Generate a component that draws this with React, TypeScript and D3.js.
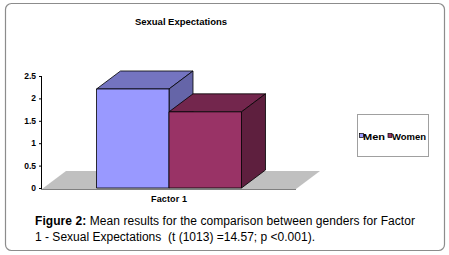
import React from "react";
import * as d3 from "d3";

// chart data
const categories = ["Factor 1"];
const seriesNames = ["Men", "Women"];
const menValues = [2.21];
const womenValues = [1.7];
const yTicks = [0, 0.5, 1, 1.5, 2, 2.5];

const fronts = ["#9999ff", "#993366"];
const tops = ["#7474c0", "#73264d"];
const sides = ["#6565a8", "#5e1f3e"];

const W = 449;
const H = 255;
const DX = 24;
const DY = -18;
const font = "'Liberation Sans', Arial, sans-serif";

const App = () => {
  const y = d3.scaleLinear().domain([0, 2.5]).range([188, 76]);
  const x0 = d3.scaleBand().domain(categories).range([42, 296]).paddingInner(0).paddingOuter(0.376);
  const x1 = d3.scaleBand().domain(seriesNames).range([0, x0.bandwidth()]);
  const values = [menValues, womenValues];

  const floorPts = [
    [42, y(0) + 1],
    [296, y(0) + 1],
    [296 + DX, y(0) + 1 + DY],
    [42 + DX, y(0) + 1 + DY],
  ];

  // legend layout: marker x, text x, text width
  const legendPos = [
    [359.5, 363, 22],
    [388, 392, 34],
  ];

  return (
    <svg width={W} height={H} style={{ position: "absolute", left: 0, top: 0 }} fontFamily={font}>
      <rect x={5.5} y={3.5} width={439} height={247} rx={6} fill="#fff" stroke="#8c8c8c" strokeWidth={1.2} />
      <text x={181} y={25} textAnchor="middle" fontSize={9.5} fontWeight="bold" textLength={92}>Sexual Expectations</text>

      {/* floor */}
      <polygon points={floorPts.map((p) => p.join(",")).join(" ")} fill="#c0c0c0" />

      {/* y axis */}
      <line x1={41.5} x2={41.5} y1={y(2.5)} y2={y(0) + 1} stroke="#000" />
      <line x1={41} x2={296} y1={y(0) + 1.5} y2={y(0) + 1.5} stroke="#808080" />
      {yTicks.map((t) => (
        <g key={t}>
          <line x1={39} x2={41} y1={y(t) + 0.5} y2={y(t) + 0.5} stroke="#000" />
          <text x={36} y={y(t) + 3} textAnchor="end" fontSize={8.5} fontWeight="bold">{t}</text>
        </g>
      ))}

      {/* 3d bars */}
      {categories.map((c, ci) =>
        seriesNames.map((s, si) => {
          const xl = (x0(c) as number) + (x1(s) as number);
          const xr = xl + x1.bandwidth();
          const yt = y(values[si][ci]);
          const yb = y(0);
          const top = `${xl},${yt} ${xr},${yt} ${xr + DX},${yt + DY} ${xl + DX},${yt + DY}`;
          const side = `${xr},${yt} ${xr + DX},${yt + DY} ${xr + DX},${yb + DY} ${xr},${yb}`;
          return (
            <g key={s} stroke="#000" strokeWidth={0.8} strokeLinejoin="round">
              <polygon points={top} fill={tops[si]} />
              <polygon points={side} fill={sides[si]} />
              <rect x={xl} y={yt} width={xr - xl} height={yb - yt} fill={fronts[si]} />
            </g>
          );
        })
      )}

      {categories.map((c) => (
        <text key={c} x={(x0(c) as number) + x0.bandwidth() / 2} y={201.5} textAnchor="middle" fontSize={9} fontWeight="bold" textLength={36}>{c}</text>
      ))}

      {/* legend */}
      <rect x={357.5} y={114.5} width={71} height={42} fill="#fff" stroke="#a0a0a0" />
      {seriesNames.map((s, i) => {
        const [mx, tx, tw] = legendPos[i];
        return (
          <g key={s}>
            <rect x={mx} y={133.5} width={4} height={4} fill={fronts[i]} stroke="#000" strokeWidth={0.7} />
            <text x={tx} y={139.5} fontSize={8.5} fontWeight="bold" textLength={tw} lengthAdjust="spacingAndGlyphs">{s}</text>
          </g>
        );
      })}

      {/* caption */}
      <text x={35} y={225} fontSize={12} textLength={380}>
        <tspan fontWeight="bold">Figure 2:</tspan> Mean results for the comparison between genders for Factor
      </text>
      <text x={35} y={241} fontSize={12} xmlSpace="preserve" style={{ whiteSpace: "pre" }} textLength={280}>1 - Sexual Expectations  (t (1013) =14.57; p &lt;0.001).</text>
    </svg>
  );
};

export default App;
